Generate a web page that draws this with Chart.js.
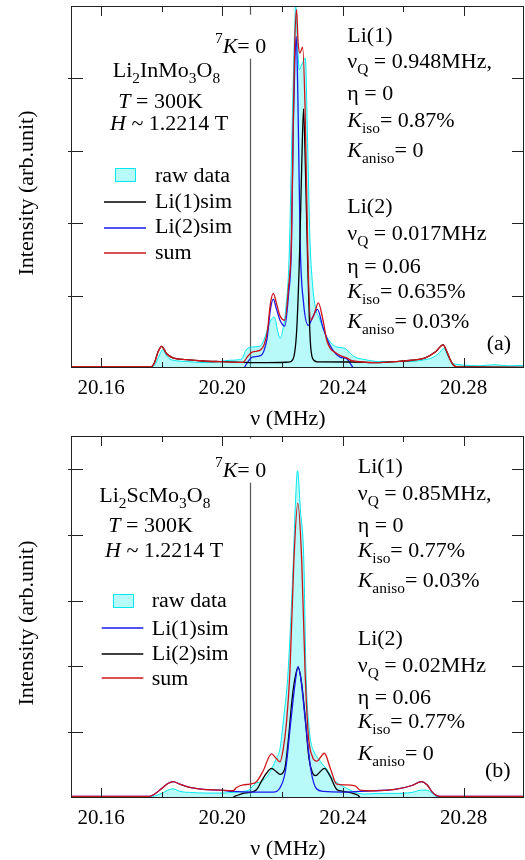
<!DOCTYPE html>
<html>
<head>
<meta charset="utf-8">
<script src="https://cdn.jsdelivr.net/npm/chart.js@4.4.1/dist/chart.umd.min.js"></script>
<style>
body { margin: 0; background: #fff; }
.panel { position: absolute; left: 0; width: 525px; height: 430px; }
</style>
</head>
<body>
<div class="panel" style="top:0"><canvas id="chartA"></canvas></div>
<div class="panel" style="top:430px"><canvas id="chartB"></canvas></div>
<script>
// graduations
const xMajor = [20.16, 20.20, 20.24, 20.28];
const xMinor = [20.18, 20.22, 20.26];
const yTicksA = [1, 2, 3, 4];
const yTicksB = [1, 2, 3, 4, 5];
const kZero = 20.2093; // 7K = 0

// (a) Li2InMo3O8 : spectre brut
const rawAX = [20.1500, 20.1550, 20.1600, 20.1650, 20.1700, 20.1745, 20.1765, 20.1777, 20.1790, 20.1803, 20.1815, 20.1825, 20.1850, 20.1882, 20.1937, 20.1993, 20.2026, 20.2059, 20.2068, 20.2080, 20.2100, 20.2125, 20.2140, 20.2155, 20.2173, 20.2185, 20.2192, 20.2200, 20.2212, 20.2222, 20.2232, 20.2240, 20.2244, 20.2249, 20.2256, 20.2265, 20.2276, 20.2283, 20.2291, 20.2300, 20.2310, 20.2321, 20.2335, 20.2347, 20.2365, 20.2380, 20.2395, 20.2408, 20.2425, 20.2441, 20.2474, 20.2518, 20.2570, 20.2629, 20.2665, 20.2695, 20.2718, 20.2734, 20.2750, 20.2767, 20.2778, 20.2800, 20.2850, 20.2900, 20.2950, 20.3000];
const rawAY = [0.02, 0.01, 0.02, 0.01, 0.015, 0.01, 0.015, 0.04, 0.15, 0.25, 0.18, 0.13, 0.10, 0.09, 0.075, 0.09, 0.107, 0.116, 0.14, 0.25, 0.29, 0.30, 0.40, 0.60, 0.705, 0.50, 0.41, 0.50, 0.85, 1.50, 3.30, 4.60, 5.00, 4.60, 4.12, 4.20, 4.28, 3.20, 1.80, 1.15, 0.82, 0.70, 0.55, 0.43, 0.33, 0.29, 0.28, 0.27, 0.20, 0.15, 0.116, 0.09, 0.09, 0.09, 0.11, 0.14, 0.20, 0.27, 0.15, 0.06, 0.05, 0.04, 0.03, 0.045, 0.03, 0.035];
// (a) Li(1)sim
const li1AX = [20.1500, 20.1766, 20.1777, 20.1788, 20.1800, 20.1808, 20.1816, 20.1838, 20.1882, 20.1937, 20.1993, 20.2070, 20.2150, 20.2220, 20.2235, 20.2247, 20.2257, 20.2264, 20.2270, 20.2276, 20.2284, 20.2292, 20.2300, 20.2315, 20.2430, 20.2518, 20.2573, 20.2629, 20.2673, 20.2706, 20.2732, 20.2745, 20.2756, 20.2767, 20.2778, 20.3000];
const li1AY = [0.02, 0.02, 0.08, 0.22, 0.30, 0.26, 0.20, 0.14, 0.116, 0.097, 0.088, 0.079, 0.075, 0.08, 0.12, 0.5, 1.6, 2.8, 3.58, 2.8, 1.4, 0.4, 0.13, 0.085, 0.083, 0.075, 0.088, 0.107, 0.14, 0.22, 0.32, 0.22, 0.11, 0.037, 0.014, 0.01];
// (a) Li(2)sim
const li2AX = [20.2073, 20.2085, 20.2100, 20.2128, 20.2140, 20.2150, 20.2160, 20.2170, 20.2180, 20.2192, 20.2208, 20.2220, 20.2230, 20.2236, 20.2241, 20.2246, 20.2251, 20.2259, 20.2270, 20.2286, 20.2300, 20.2316, 20.2335, 20.2358, 20.2391, 20.2413, 20.2425, 20.2435];
const li2AY = [0.0, 0.08, 0.15, 0.17, 0.25, 0.43, 0.80, 0.95, 0.82, 0.66, 0.58, 1.0, 1.7, 3.3, 4.2, 4.58, 3.8, 1.7, 0.9, 0.59, 0.70, 0.81, 0.55, 0.31, 0.15, 0.13, 0.06, 0.0];
// (a) sum
const sumAX = [20.1500, 20.1766, 20.1777, 20.1788, 20.1800, 20.1808, 20.1816, 20.1838, 20.1882, 20.1937, 20.1993, 20.2070, 20.2085, 20.2100, 20.2128, 20.2140, 20.2150, 20.2160, 20.2170, 20.2180, 20.2192, 20.2208, 20.2220, 20.2230, 20.2236, 20.2241, 20.2247, 20.2252, 20.2258, 20.2267, 20.2275, 20.2284, 20.2294, 20.2305, 20.2319, 20.2335, 20.2347, 20.2380, 20.2413, 20.2430, 20.2518, 20.2573, 20.2629, 20.2673, 20.2706, 20.2732, 20.2745, 20.2756, 20.2767, 20.2778, 20.3000];
const sumAY = [0.02, 0.02, 0.08, 0.22, 0.30, 0.26, 0.20, 0.14, 0.116, 0.097, 0.088, 0.079, 0.16, 0.22, 0.25, 0.33, 0.50, 0.88, 1.03, 0.90, 0.72, 0.66, 1.10, 1.80, 3.40, 4.50, 4.95, 4.50, 4.35, 4.43, 3.60, 1.60, 0.66, 0.74, 0.90, 0.65, 0.38, 0.20, 0.14, 0.10, 0.075, 0.088, 0.107, 0.14, 0.22, 0.32, 0.22, 0.11, 0.037, 0.014, 0.01];

// (b) Li2ScMo3O8 : spectre brut
const rawBX = [20.1500, 20.1550, 20.1600, 20.1650, 20.1700, 20.1745, 20.1765, 20.1777, 20.1800, 20.1821, 20.1838, 20.1860, 20.1893, 20.1950, 20.2000, 20.2037, 20.2070, 20.2092, 20.2110, 20.2130, 20.2150, 20.2165, 20.2181, 20.2192, 20.2203, 20.2219, 20.2236, 20.2242, 20.2250, 20.2260, 20.2271, 20.2278, 20.2290, 20.2305, 20.2319, 20.2335, 20.2347, 20.2365, 20.2391, 20.2408, 20.2441, 20.2473, 20.2518, 20.2573, 20.2629, 20.2660, 20.2676, 20.2697, 20.2711, 20.2750, 20.2800, 20.2850, 20.2900, 20.2950, 20.3000];
const rawBY = [0.01, 0.005, 0.01, 0.005, 0.01, 0.005, 0.01, 0.03, 0.07, 0.12, 0.14, 0.10, 0.085, 0.075, 0.075, 0.085, 0.10, 0.13, 0.22, 0.25, 0.33, 0.45, 0.61, 0.75, 1.17, 1.93, 3.60, 4.36, 4.97, 4.36, 3.60, 1.93, 1.00, 0.70, 0.60, 0.50, 0.44, 0.30, 0.20, 0.16, 0.085, 0.06, 0.07, 0.07, 0.085, 0.12, 0.12, 0.07, 0.02, 0.01, 0.015, 0.01, 0.015, 0.01, 0.01];
// (b) Li(1)sim
const li1BX = [20.1500, 20.1760, 20.1777, 20.1799, 20.1821, 20.1838, 20.1860, 20.1893, 20.1937, 20.1993, 20.2037, 20.2100, 20.2170, 20.2190, 20.2210, 20.2228, 20.2243, 20.2252, 20.2262, 20.2276, 20.2295, 20.2313, 20.2336, 20.2400, 20.2457, 20.2496, 20.2573, 20.2629, 20.2660, 20.2679, 20.2697, 20.2711, 20.2723, 20.3000];
const li1BY = [0.024, 0.024, 0.06, 0.14, 0.22, 0.25, 0.21, 0.16, 0.13, 0.12, 0.10, 0.09, 0.09, 0.14, 0.41, 1.17, 1.78, 2.00, 1.78, 1.17, 0.41, 0.14, 0.10, 0.09, 0.10, 0.11, 0.13, 0.19, 0.25, 0.20, 0.085, 0.035, 0.024, 0.024];
// (b) Li(2)sim
const li2BX = [20.2035, 20.2040, 20.2048, 20.2070, 20.2092, 20.2115, 20.2130, 20.2148, 20.2164, 20.2180, 20.2192, 20.2208, 20.2220, 20.2232, 20.2243, 20.2252, 20.2262, 20.2274, 20.2288, 20.2300, 20.2310, 20.2325, 20.2339, 20.2358, 20.2380, 20.2402, 20.2441, 20.2452, 20.2457];
const li2BY = [0.0, 0.02, 0.035, 0.07, 0.085, 0.13, 0.25, 0.38, 0.45, 0.40, 0.36, 0.45, 0.90, 1.50, 1.85, 1.98, 1.80, 1.30, 0.60, 0.38, 0.34, 0.40, 0.45, 0.33, 0.13, 0.10, 0.06, 0.035, 0.0];
// (b) sum
const sumBX = [20.1500, 20.1760, 20.1777, 20.1799, 20.1821, 20.1838, 20.1860, 20.1893, 20.1937, 20.1993, 20.2037, 20.2048, 20.2070, 20.2092, 20.2115, 20.2136, 20.2164, 20.2180, 20.2192, 20.2203, 20.2214, 20.2225, 20.2238, 20.2251, 20.2264, 20.2275, 20.2286, 20.2300, 20.2314, 20.2339, 20.2358, 20.2380, 20.2408, 20.2441, 20.2457, 20.2496, 20.2573, 20.2629, 20.2660, 20.2679, 20.2697, 20.2711, 20.2723, 20.3000];
const sumBY = [0.024, 0.024, 0.06, 0.14, 0.22, 0.25, 0.21, 0.16, 0.13, 0.12, 0.11, 0.16, 0.20, 0.21, 0.25, 0.41, 0.67, 0.60, 0.55, 0.75, 1.17, 1.93, 3.60, 4.48, 3.60, 1.93, 0.95, 0.62, 0.56, 0.68, 0.46, 0.21, 0.20, 0.186, 0.12, 0.11, 0.13, 0.19, 0.25, 0.20, 0.085, 0.035, 0.024, 0.024];

const CYAN = 'rgb(0,232,236)';
const CYAN_FILL = 'rgba(0,232,236,0.28)';
const RED = 'rgb(205,20,25)';
const BLUE = 'rgb(25,25,235)';
const BLACK = '#000';
const SERIF = '"Liberation Serif", "Times New Roman", serif';

function pts(xs, ys) {
    return xs.map((x, i) => ({ x: x, y: ys[i] }));
}

// texte avec italique / indice / exposant
function rich(ctx, x, y, parts) {
    ctx.save();
    ctx.translate(x, y);
    ctx.scale(1.1, 1);
    let cx = 0;
    parts.forEach(([t, k]) => {
        let fs = 20, dy = 0, st = '';
        if (k === 'i') st = 'italic ';
        if (k === 'sub') { fs = 14; dy = 6; }
        if (k === 'sup') { fs = 14; dy = -10; }
        ctx.font = st + fs + 'px ' + SERIF;
        ctx.fillText(t, cx, dy);
        cx += ctx.measureText(t).width;
    });
    ctx.restore();
}

function deco(notes) {
    return {
        id: 'deco',
        beforeDatasetsDraw(chart) {
            const { ctx, chartArea: a, scales: { x } } = chart;
            const px = Math.round(x.getPixelForValue(kZero)) + 0.5;
            ctx.save();
            ctx.strokeStyle = '#555';
            ctx.lineWidth = 1.2;
            ctx.beginPath();
            ctx.moveTo(px, a.top);
            ctx.lineTo(px, a.bottom);
            ctx.stroke();
            ctx.restore();
        },
        afterDatasetsDraw(chart) {
            const { ctx, chartArea: a, scales: { x, y } } = chart;
            ctx.save();
            // étiquette 7K = 0
            ctx.fillStyle = '#fff';
            ctx.fillRect(notes.kx - 3, notes.ky - 38, 64, 44);
            ctx.fillStyle = '#000';
            rich(ctx, notes.kx, notes.ky, [['7', 'sup'], ['K', 'i'], ['= 0', '']]);

            // cadre
            ctx.strokeStyle = '#222';
            ctx.lineWidth = 1;
            ctx.strokeRect(a.left + 0.5, a.top + 0.5, a.right - a.left - 1, a.bottom - a.top - 1);

            // graduations vers l'intérieur
            ctx.beginPath();
            x.ticks.forEach(t => {
                const px = Math.round(x.getPixelForValue(t.value)) + 0.5;
                const len = xMajor.includes(t.value) ? 10 : 6;
                ctx.moveTo(px, a.bottom); ctx.lineTo(px, a.bottom - len);
                ctx.moveTo(px, a.top); ctx.lineTo(px, a.top + len);
            });
            y.ticks.forEach(t => {
                const py = Math.round(y.getPixelForValue(t.value)) + 0.5;
                ctx.moveTo(a.left - 3, py); ctx.lineTo(a.left + 12, py);
                ctx.moveTo(a.right - 12, py); ctx.lineTo(a.right, py);
            });
            ctx.stroke();

            // titres des axes
            ctx.fillStyle = '#000';
            ctx.font = '20px ' + SERIF;
            ctx.textAlign = 'center';
            ctx.save();
            ctx.translate(288, 425);
            ctx.scale(1.1, 1);
            ctx.fillText('\u03bd (MHz)', 0, 0);
            ctx.restore();
            ctx.save();
            ctx.translate(33, 193);
            ctx.rotate(-Math.PI / 2);
            ctx.scale(1.1, 1);
            ctx.fillText('Intensity (arb.unit)', 0, 0);
            ctx.restore();
            ctx.textAlign = 'left';

            // annotations
            notes.texts.forEach(([tx, ty, parts]) => rich(ctx, tx, ty, parts));

            // légende
            const b = notes.box;
            ctx.fillStyle = CYAN_FILL;
            ctx.fillRect(b[0], b[1], b[2], b[3]);
            ctx.strokeStyle = CYAN;
            ctx.lineWidth = 1;
            ctx.strokeRect(b[0] + 0.5, b[1] + 0.5, b[2], b[3]);
            notes.lines.forEach(([x1, x2, ly, col]) => {
                ctx.strokeStyle = col;
                ctx.lineWidth = 1.5;
                ctx.beginPath();
                ctx.moveTo(x1, ly);
                ctx.lineTo(x2, ly);
                ctx.stroke();
            });
            ctx.restore();
        }
    };
}

function rightBlock(x0, ys, v) {
    return [
        [x0, ys[0], [['Li(1)', '']]],
        [x0, ys[1], [['\u03bd', ''], ['Q', 'sub'], [' = ' + v[0], '']]],
        [x0, ys[2], [['\u03b7 = ' + v[1], '']]],
        [x0, ys[3], [['K', 'i'], ['iso', 'sub'], ['= ' + v[2], '']]],
        [x0, ys[4], [['K', 'i'], ['aniso', 'sub'], ['= ' + v[3], '']]],
        [x0, ys[5], [['Li(2)', '']]],
        [x0, ys[6], [['\u03bd', ''], ['Q', 'sub'], [' = ' + v[4], '']]],
        [x0, ys[7], [['\u03b7 = ' + v[5], '']]],
        [x0, ys[8], [['K', 'i'], ['iso', 'sub'], ['= ' + v[6], '']]],
        [x0, ys[9], [['K', 'i'], ['aniso', 'sub'], ['= ' + v[7], '']]]
    ];
}

const notesA = {
    kx: 215, ky: 52.7,
    texts: [
        [112.7, 77.3, [['Li', ''], ['2', 'sub'], ['InMo', ''], ['3', 'sub'], ['O', ''], ['8', 'sub']]],
        [118.3, 108.3, [['T', 'i'], [' = 300K', '']]],
        [110, 130, [['H', 'i'], [' ~ 1.2214 T', '']]],
        [155, 181.7, [['raw data', '']]],
        [155, 208.3, [['Li(1)sim', '']]],
        [155, 233.3, [['Li(2)sim', '']]],
        [155, 259.3, [['sum', '']]],
        [486.7, 350, [['(a)', '']]]
    ].concat(rightBlock(347.3, [41.7, 68.3, 100, 126.7, 156.7, 213.3, 240, 272.7, 297.7, 328.3],
        ['0.948MHz,', '0', '0.87%', '0', '0.017MHz', '0.06', '0.635%', '0.03%'])),
    box: [115, 168, 20, 13],
    lines: [[104, 146, 202, BLACK], [104, 146, 228, BLUE], [104, 146, 253, RED]]
};

const notesB = {
    kx: 215, ky: 46.7,
    texts: [
        [99.3, 71.7, [['Li', ''], ['2', 'sub'], ['ScMo', ''], ['3', 'sub'], ['O', ''], ['8', 'sub']]],
        [108.3, 101.7, [['T', 'i'], [' = 300K', '']]],
        [105, 126.7, [['H', 'i'], [' ~ 1.2214 T', '']]],
        [151.7, 176.7, [['raw data', '']]],
        [151.7, 205, [['Li(1)sim', '']]],
        [151.7, 230, [['Li(2)sim', '']]],
        [151.7, 255, [['sum', '']]],
        [485, 346.7, [['(b)', '']]]
    ].concat(rightBlock(357.7, [43.3, 70, 101.7, 126.7, 156.7, 215, 241.7, 274.3, 298.3, 330],
        ['0.85MHz,', '0', '0.77%', '0.03%', '0.02MHz', '0.06', '0.77%', '0'])),
    box: [113, 164, 20, 13],
    lines: [[101.7, 143.3, 198, BLUE], [101.7, 143.3, 224, BLACK], [101.7, 143.3, 248, RED]]
};

function makeChart(id, yMax, yTicks, sets, notes) {
    const line = (data, color, order) => ({
        data: data, borderColor: color, borderWidth: 1.3, pointRadius: 0,
        fill: false, cubicInterpolationMode: 'monotone', order: order
    });
    return new Chart(document.getElementById(id), {
        type: 'line',
        data: {
            datasets: [
                {
                    label: 'raw data', data: sets.raw, borderColor: CYAN, backgroundColor: CYAN_FILL,
                    borderWidth: 1, pointRadius: 0, fill: 'origin', cubicInterpolationMode: 'monotone', order: 4
                },
                Object.assign(line(sets.li1, sets.c1, 2), { label: 'Li(1)sim' }),
                Object.assign(line(sets.li2, sets.c2, 3), { label: 'Li(2)sim' }),
                Object.assign(line(sets.sum, RED, 1), { label: 'sum' })
            ]
        },
        options: {
            responsive: true,
            maintainAspectRatio: false,
            animation: false,
            devicePixelRatio: 1,
            layout: { padding: { top: 6, right: 1, left: 0, bottom: 0 } },
            plugins: { legend: { display: false }, tooltip: { enabled: false } },
            scales: {
                x: {
                    type: 'linear', min: 20.15, max: 20.30,
                    afterBuildTicks: s => { s.ticks = xMajor.concat(xMinor).sort().map(v => ({ value: v })); },
                    afterFit: s => { s.height = 62; },
                    grid: { display: false, drawTicks: false },
                    border: { display: false },
                    ticks: {
                        autoSkip: false, maxRotation: 0, padding: 8, color: '#000',
                        font: { family: SERIF, size: 21 },
                        callback: v => xMajor.includes(v) ? v.toFixed(2) : ''
                    }
                },
                y: {
                    type: 'linear', min: 0, max: yMax,
                    afterBuildTicks: s => { s.ticks = yTicks.map(v => ({ value: v })); },
                    afterFit: s => { s.width = 71; },
                    grid: { display: false, drawTicks: false },
                    border: { display: false },
                    ticks: { display: false }
                }
            }
        },
        plugins: [deco(notes)]
    });
}

makeChart('chartA', 5, yTicksA, {
    raw: pts(rawAX, rawAY), li1: pts(li1AX, li1AY), li2: pts(li2AX, li2AY), sum: pts(sumAX, sumAY),
    c1: BLACK, c2: BLUE
}, notesA);

makeChart('chartB', 5.5, yTicksB, {
    raw: pts(rawBX, rawBY), li1: pts(li1BX, li1BY), li2: pts(li2BX, li2BY), sum: pts(sumBX, sumBY),
    c1: BLUE, c2: BLACK
}, notesB);
</script>
</body>
</html>
